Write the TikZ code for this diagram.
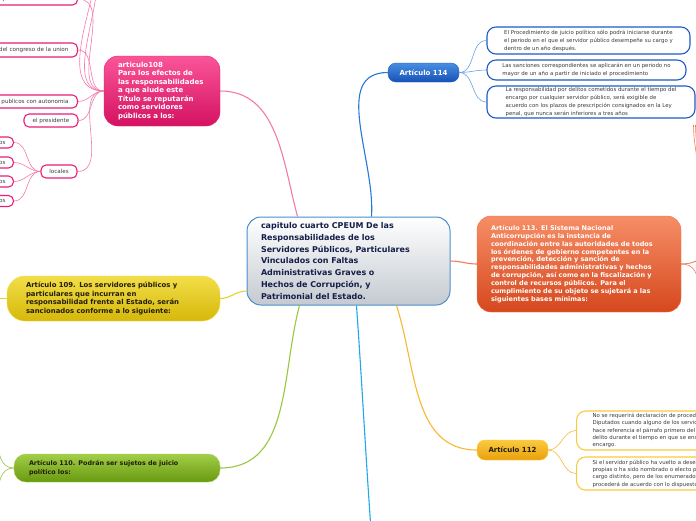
\documentclass[tikz,border=0pt]{standalone}
\usepackage{fontspec}
\setmainfont{DejaVu Sans}
\definecolor{pinkline}{RGB}{244,122,172}
\definecolor{pinkborder}{RGB}{233,30,120}
\definecolor{pinktop}{RGB}{250,85,152}
\definecolor{pinkbot}{RGB}{212,18,98}
\definecolor{bluetop}{RGB}{72,142,226}
\definecolor{bluebot}{RGB}{22,82,182}
\definecolor{blueborder}{RGB}{30,92,200}
\definecolor{blueline}{RGB}{40,120,215}
\definecolor{orangetop}{RGB}{246,142,102}
\definecolor{orangebot}{RGB}{214,72,30}
\definecolor{orangeborder}{RGB}{242,112,72}
\definecolor{orangeline}{RGB}{242,122,90}
\definecolor{yellowtop}{RGB}{242,222,72}
\definecolor{yellowbot}{RGB}{214,184,10}
\definecolor{yellowline}{RGB}{232,210,50}
\definecolor{greentop}{RGB}{162,206,72}
\definecolor{greenbot}{RGB}{104,154,16}
\definecolor{greenline}{RGB}{152,200,64}
\definecolor{goldtop}{RGB}{250,202,62}
\definecolor{goldbot}{RGB}{234,160,12}
\definecolor{goldline}{RGB}{246,186,48}
\definecolor{cyanline}{RGB}{30,170,232}
\definecolor{capborder}{RGB}{72,142,202}
\definecolor{capbot}{RGB}{196,202,208}
\definecolor{captext}{RGB}{20,30,72}
\definecolor{leaftext}{RGB}{60,60,60}
\definecolor{darktext}{RGB}{35,30,10}

\begin{document}
\begin{tikzpicture}[x=1pt, y=-1pt,
  central/.style={draw=capborder, line width=1pt, rounded corners=14pt, top color=white, bottom color=capbot, text=captext, align=left, font=\bfseries\fontsize{8}{11.7}\selectfont, text width=175pt, inner xsep=14pt, minimum height=88pt},
  topic/.style={rounded corners=12pt, align=left, inner sep=0pt, font=\bfseries\fontsize{6.6}{8}\selectfont},
  leaf/.style={fill=white, line width=1.1pt, rounded corners=9pt, align=left, text=leaftext, font=\fontsize{5.4}{8}\selectfont, inner sep=0pt},
  pinkleaf/.style={leaf, draw=pinkborder, rounded corners=5pt, font=\fontsize{5.6}{7}\selectfont},
  blueleaf/.style={leaf, draw=blueborder},
  goldleaf/.style={leaf, draw=goldtop},
  link/.style={line width=1.1pt},
  twig/.style={line width=0.6pt}
]
\path[use as bounding box] (0,0) rectangle (696,520);
\clip (0,0) rectangle (696,520);
\fill[white] (0,0) rectangle (696,520);

% centro
\node[central] (cap) at (348.5,261) {capitulo cuarto CPEUM De las\\Responsabilidades de los\\Servidores Públicos, Particulares\\Vinculados con Faltas\\Administrativas Graves o\\Hechos de Corrupción, y\\Patrimonial del Estado.};

% articulo 108 y sus hojas
\node[topic, draw=pinkborder, top color=pinktop, bottom color=pinkbot, text=white, text width=88pt, inner xsep=14pt, minimum height=70pt, rounded corners=14pt, font=\bfseries\fontsize{7}{8.5}\selectfont] (art108) at (162,91) {articulo108\\Para los efectos de\\las responsabilidades\\a que alude este\\Título se reputarán\\como servidores\\públicos a los:};
\node[pinkleaf, anchor=east, text width=150pt, align=right, inner xsep=9pt, minimum height=12pt] (jueces) at (78,-1) {jueces de la federación};
\node[pinkleaf, anchor=east, text width=150pt, align=right, inner xsep=9pt, minimum height=14pt] (congreso) at (78,50) {del congreso de la union};
\node[pinkleaf, anchor=east, text width=150pt, align=right, inner xsep=9pt, minimum height=13pt] (autonomia) at (78,101.5) {organismos publicos con autonomia};
\node[pinkleaf, minimum width=54pt, minimum height=13pt] (presidente) at (51,120.5) {el presidente};
\node[pinkleaf, minimum width=36pt, minimum height=13pt] (locales) at (59,171.5) {locales};
\node[pinkleaf, anchor=east, text width=40pt, align=right, inner xsep=8pt, minimum height=11pt] (local1) at (14,142.5) {os};
\node[pinkleaf, anchor=east, text width=40pt, align=right, inner xsep=8pt, minimum height=11pt] (local2) at (14,162.5) {os};
\node[pinkleaf, anchor=east, text width=40pt, align=right, inner xsep=8pt, minimum height=11pt] (local3) at (14,181.5) {os};
\node[pinkleaf, anchor=east, text width=40pt, align=right, inner xsep=8pt, minimum height=11pt] (local4) at (14,201) {os};
\coordinate (arriba1) at (78,-45);
\coordinate (arriba2) at (78,-90);

% articulo 114 y sus hojas
\node[topic, draw=blueborder, top color=bluetop, bottom color=bluebot, text=white, rounded corners=8pt, minimum width=71pt, minimum height=19pt, align=center, font=\bfseries\fontsize{7}{8}\selectfont] (art114) at (423.5,72.5) {Artículo 114};
\node[blueleaf, minimum width=203pt, minimum height=27pt] (plazo) at (588.5,40.5) {El Procedimiento de juicio político sólo podrá iniciarse durante\\el periodo en el que el servidor público desempeñe su cargo y\\dentro de un año después.};
\node[blueleaf, minimum width=199pt, minimum height=20pt] (sanciones) at (586.5,70) {Las sanciones correspondientes se aplicarán en un periodo no\\mayor de un año a partir de iniciado el procedimiento};
\node[blueleaf, minimum width=208pt, minimum height=32pt] (delitos) at (591,102) {La responsabilidad por delitos cometidos durante el tiempo del\\encargo por cualquier servidor público, será exigible de\\acuerdo con los plazos de prescripción consignados en la Ley\\penal, que nunca serán inferiores a tres años};

% articulo 113
\node[topic, draw=orangeborder, top color=orangetop, bottom color=orangebot, text=white, text width=176pt, inner xsep=14pt, minimum height=96pt, rounded corners=14pt, font=\bfseries\fontsize{6.5}{7.9}\selectfont] (art113) at (579,264) {Artículo 113. El Sistema Nacional\\Anticorrupción es la instancia de\\coordinación entre las autoridades de todos\\los órdenes de gobierno competentes en la\\prevención, detección y sanción de\\responsabilidades administrativas y hechos\\de corrupción, así como en la fiscalización y\\control de recursos públicos. Para el\\cumplimiento de su objeto se sujetará a las\\siguientes bases mínimas:};
\coordinate (derecha1) at (693.5,125);
\coordinate (derecha2) at (695.5,125);
\coordinate (derecha3) at (699,330);

% articulo 109
\node[topic, draw=yellowtop, top color=yellowtop, bottom color=yellowbot, text=darktext, text width=175pt, inner xsep=19pt, minimum height=45pt, rounded corners=18pt, font=\bfseries\fontsize{6.9}{8.7}\selectfont] (art109) at (113.5,298.5) {Artículo 109. Los servidores públicos y\\particulares que incurran en\\responsabilidad frente al Estado, serán\\sancionados conforme a lo siguiente:};
\coordinate (izquierda109) at (-10,298.5);

% articulo 110
\node[topic, draw=greentop, top color=greentop, bottom color=greenbot, text=darktext, text width=176pt, inner xsep=15pt, minimum height=28pt, rounded corners=12pt, font=\bfseries\fontsize{6.4}{8.5}\selectfont] (art110) at (117,468) {Artículo 110. Podrán ser sujetos de juicio\\político los:};
\coordinate (izquierda110a) at (-20,405);
\coordinate (izquierda110b) at (-20,530);

% articulo 112 y sus hojas
\node[topic, draw=goldtop, top color=goldtop, bottom color=goldbot, text=darktext, rounded corners=8pt, minimum width=71pt, minimum height=20pt, align=center, font=\bfseries\fontsize{7}{8}\selectfont] (art112) at (512.5,450) {Artículo 112};
\node[goldleaf, anchor=west, inner xsep=16pt, minimum height=39pt, font=\fontsize{5.4}{7.2}\selectfont] (procedencia) at (576,430.5) {No se requerirá declaración de procedencia de la Cámara de\\Diputados cuando alguno de los servidores públicos a que\\hace referencia el párrafo primero del artículo 111 cometa un\\delito durante el tiempo en que se encuentre separado de su\\encargo.};
\node[goldleaf, anchor=west, inner xsep=16pt, minimum height=33pt, font=\fontsize{5.4}{7.4}\selectfont] (funciones) at (576,473.5) {Si el servidor público ha vuelto a desempeñar sus funciones\\propias o ha sido nombrado o electo para desempeñar otro\\cargo distinto, pero de los enumerados por el artículo 111, se\\procederá de acuerdo con lo dispuesto en dicho precepto.};

\coordinate (abajo) at (371,530);

% ramas principales
\draw[link, pinkline] (art108.east) to[out=0,in=105] ([xshift=51pt]cap.north west);
\draw[link, blueline] ([xshift=125pt]cap.north west) to[out=86,in=180] (art114.west);
\draw[link, orangeline] (cap.east) to[out=0,in=180] (art113.west);
\draw[link, yellowline] ([yshift=-30pt]cap.west) to[out=180,in=0] (art109.east);
\draw[link, greenline] ([xshift=53pt]cap.south west) to[out=-105,in=0] (art110.east);
\draw[link, goldline] ([xshift=150pt]cap.south west) to[out=-72,in=180] (art112.west);
\draw[link, cyanline] ([xshift=110pt]cap.south west) to[out=-86,in=94] (abajo);

% hojas
\draw[twig, pinkline] (art108.west) to[out=180,in=0] (arriba2);
\draw[twig, pinkline] (art108.west) to[out=180,in=0] (arriba1);
\draw[twig, pinkline] (art108.west) to[out=180,in=0] (jueces.east);
\draw[twig, pinkline] (art108.west) to[out=180,in=0] (congreso.east);
\draw[twig, pinkline] (art108.west) to[out=180,in=0] (autonomia.east);
\draw[twig, pinkline] (art108.west) to[out=180,in=0] (presidente.east);
\draw[twig, pinkline] (art108.west) to[out=180,in=0] (locales.east);
\draw[twig, pinkline] (locales.west) to[out=180,in=0] (local1.east);
\draw[twig, pinkline] (locales.west) to[out=180,in=0] (local2.east);
\draw[twig, pinkline] (locales.west) to[out=180,in=0] (local3.east);
\draw[twig, pinkline] (locales.west) to[out=180,in=0] (local4.east);
\draw[twig, blueline!70] (art114.east) to[out=0,in=180] (plazo.west);
\draw[twig, blueline!70] (art114.east) to[out=0,in=180] (sanciones.west);
\draw[twig, blueline!70] (art114.east) to[out=0,in=180] (delitos.west);
\draw[twig, orangeline] (art113.east) to[out=0,in=-90] (derecha1);
\draw[twig, orangeline] (art113.east) to[out=0,in=-90] (derecha2);
\draw[twig, orangeline] (art113.east) to[out=0,in=100] (derecha3);
\draw[link, yellowline] (art109.west) -- (izquierda109);
\draw[twig, greenline] (art110.west) to[out=180,in=0] (izquierda110a);
\draw[twig, greenline] (art110.west) to[out=180,in=0] (izquierda110b);
\draw[twig, goldline] (art112.east) to[out=0,in=180] (procedencia.west);
\draw[twig, goldline] (art112.east) to[out=0,in=180] (funciones.west);
\end{tikzpicture}
\end{document}
